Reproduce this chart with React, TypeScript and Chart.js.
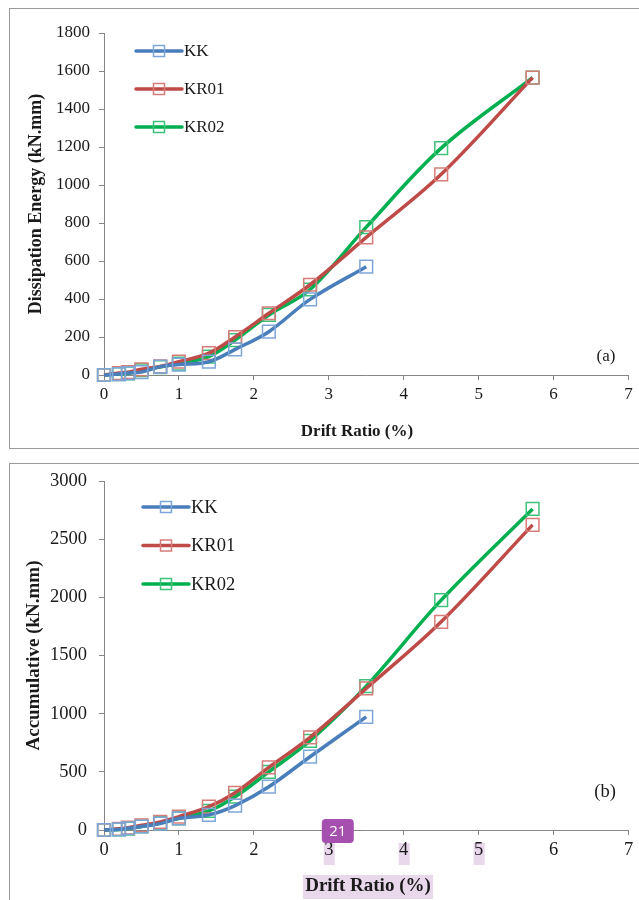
import React, { useEffect, useRef } from "react";
import { Chart, registerables } from "chart.js";

Chart.register(...registerables);

// ---------- data ----------
const seriesNames = ["KK", "KR01", "KR02"];
const driftKK = [0, 0.2, 0.32, 0.5, 0.75, 1.0, 1.4, 1.75, 2.2, 2.75, 3.5];
const driftKR = [0, 0.2, 0.32, 0.5, 0.75, 1.0, 1.4, 1.75, 2.2, 2.75, 3.5, 4.5, 5.72];

// (a) Dissipation energy (kN.mm)
const kkDissipation = [0, 5, 10, 15, 44, 55, 70, 135, 228, 398, 570];
const kr01Dissipation = [0, 10, 15, 30, 45, 70, 115, 200, 325, 475, 724, 1056, 1565];
const kr02Dissipation = [0, 5, 8, 25, 42, 60, 97, 184, 316, 450, 778, 1194, 1565];

// (b) Accumulative (kN.mm)
const kkAccumulative = [0, 5, 15, 30, 55, 100, 130, 210, 372, 630, 973];
const kr01Accumulative = [0, 10, 20, 40, 70, 115, 200, 320, 538, 796, 1217, 1790, 2623];
const kr02Accumulative = [0, 5, 12, 30, 60, 100, 165, 286, 500, 767, 1237, 1976, 2760];

const xTickMin = 0;
const xTickMax = 7;
const xTickStep = 1;
const yTicksA = { min: 0, max: 1800, step: 200 };
const yTicksB = { min: 0, max: 3000, step: 500 };
const highlightedTicks = [3, 4, 5];
const badgeText = "21";
const xTitle = "Drift Ratio (%)";

const lineColors = ["#4A7EBB", "#BE4B48", "#00B050"];
const markerColors = ["#7EA6D9", "#D67C79", "#3EC27B"];

const SERIF = "'Liberation Serif', 'Times New Roman', serif";
const TEXT = "#1a1a1a";
const AXIS = "#868686";

type Panel = {
  kk: number[];
  kr01: number[];
  kr02: number[];
  yT: { min: number; max: number; step: number };
  yTitle: string;
  padTop: number;
  height: number;
  fs: number;
  yTickPad: number;
  titleFs: number;
  yTitleFs: number;
  yTitleX: number;
  xTitleX: number;
  xTitleY: number;
  legendX: number;
  legendY: number;
  legendGap: number;
  tag: string;
  tagX: number;
  tagY: number;
  highlight: boolean;
};

function toPts(xs: number[], ys: number[]) {
  return ys.map((y, i) => ({ x: xs[i], y }));
}

function makeOverlay(p: Panel) {
  return {
    id: "overlay",
    beforeDraw(chart: any) {
      if (!p.highlight) return;
      const ctx = chart.ctx;
      const xs = chart.scales.x;
      ctx.save();
      ctx.fillStyle = "#E9D7EC";
      for (const v of highlightedTicks) {
        const px = xs.getPixelForValue(v);
        ctx.fillRect(px - 5, xs.top + 13, 11, 22);
      }
      ctx.fillRect(p.xTitleX - 65, p.xTitleY - 11, 130, 24);
      ctx.restore();
    },
    afterDraw(chart: any) {
      const ctx = chart.ctx;
      const ca = chart.chartArea;
      ctx.save();
      // axis titles
      ctx.fillStyle = TEXT;
      ctx.font = `bold ${p.titleFs}px ${SERIF}`;
      ctx.textAlign = "center";
      ctx.textBaseline = "middle";
      ctx.fillText(xTitle, p.xTitleX, p.xTitleY);
      ctx.save();
      ctx.translate(p.yTitleX, (ca.top + ca.bottom) / 2);
      ctx.rotate(-Math.PI / 2);
      ctx.font = `bold ${p.yTitleFs}px ${SERIF}`;
      ctx.fillText(p.yTitle, 0, 0);
      ctx.restore();
      // legend
      chart.data.datasets.forEach((ds: any, i: number) => {
        const y = p.legendY + i * p.legendGap;
        const x0 = p.legendX;
        ctx.strokeStyle = ds.borderColor;
        ctx.lineWidth = 3.5;
        ctx.lineCap = "round";
        ctx.beginPath();
        ctx.moveTo(x0, y);
        ctx.lineTo(x0 + 46, y);
        ctx.stroke();
        ctx.strokeStyle = ds.pointBorderColor;
        ctx.lineWidth = 1.5;
        ctx.strokeRect(x0 + 23 - 5.5, y - 5.5, 11, 11);
        ctx.fillStyle = TEXT;
        ctx.font = `${p.fs}px ${SERIF}`;
        ctx.textBaseline = "middle";
        ctx.textAlign = "left";
        ctx.fillText(ds.label, x0 + 48, y + 1);
      });
      // panel tag
      ctx.fillStyle = TEXT;
      ctx.font = `${p.fs}px ${SERIF}`;
      ctx.textAlign = "center";
      ctx.textBaseline = "middle";
      ctx.fillText(p.tag, p.tagX, p.tagY);
      // page badge
      if (p.highlight) {
        const xs = chart.scales.x;
        const bx = xs.getPixelForValue(3) + 9;
        const by = xs.top + 1;
        ctx.fillStyle = "#A54FAE";
        ctx.beginPath();
        (ctx as any).roundRect(bx - 16, by - 12, 32, 24, 4);
        ctx.fill();
        ctx.fillStyle = "#ffffff";
        ctx.font = "15px 'Open Sans', 'DejaVu Sans', sans-serif";
        ctx.fillText(badgeText, bx, by + 1);
      }
      ctx.restore();
    },
  };
}

function buildChart(canvas: HTMLCanvasElement, p: Panel) {
  const mk = (i: number, xs: number[], ys: number[]) => ({
    label: seriesNames[i],
    data: toPts(xs, ys),
    borderColor: lineColors[i],
    backgroundColor: "rgba(0,0,0,0)",
    borderWidth: 3.5,
    tension: 0.35,
    pointStyle: "rect",
    pointRadius: 9,
    pointBorderWidth: 1.5,
    pointBorderColor: markerColors[i],
    pointBackgroundColor: "rgba(0,0,0,0)",
    clip: false,
    fill: false,
  });
  return new Chart(canvas, {
    type: "line",
    data: {
      datasets: [
        mk(0, driftKK, p.kk),
        mk(1, driftKR, p.kr01),
        mk(2, driftKR, p.kr02),
      ],
    },
    options: {
      responsive: false,
      animation: false,
      events: [],
      layout: { padding: { left: 0, right: 7, top: p.padTop, bottom: 0 } },
      plugins: {
        legend: { display: false },
        tooltip: { enabled: false },
      },
      scales: {
        x: {
          type: "linear",
          min: xTickMin,
          max: xTickMax,
          afterFit: (s: any) => {
            s.height = p.height - 375;
          },
          ticks: {
            stepSize: xTickStep,
            color: TEXT,
            padding: 4,
            maxRotation: 0,
            font: { family: SERIF, size: p.fs },
            callback: (v: any) => String(v),
          },
          grid: {
            drawOnChartArea: false,
            drawTicks: true,
            tickLength: 5,
            color: AXIS,
          },
          border: { display: true, color: AXIS, width: 1 },
          title: { display: false },
        },
        y: {
          type: "linear",
          min: p.yT.min,
          max: p.yT.max,
          afterFit: (s: any) => {
            s.width = 104;
          },
          ticks: {
            stepSize: p.yT.step,
            color: TEXT,
            padding: p.yTickPad,
            font: { family: SERIF, size: p.fs },
            callback: (v: any) => String(v),
          },
          grid: {
            drawOnChartArea: false,
            drawTicks: true,
            tickLength: 5,
            color: AXIS,
          },
          border: { display: true, color: AXIS, width: 1 },
          title: { display: false },
        },
      },
    },
    plugins: [makeOverlay(p) as any],
  } as any);
}

const panelA: Panel = {
  kk: kkDissipation,
  kr01: kr01Dissipation,
  kr02: kr02Dissipation,
  yT: yTicksA,
  yTitle: "Dissipation Energy (kN.mm)",
  padTop: 33,
  height: 450,
  fs: 17,
  yTickPad: 9,
  titleFs: 17,
  yTitleFs: 18,
  yTitleX: 36,
  xTitleX: 357,
  xTitleY: 432,
  legendX: 136,
  legendY: 51,
  legendGap: 38,
  tag: "(a)",
  tagX: 606,
  tagY: 357,
  highlight: false,
};

const panelB: Panel = {
  kk: kkAccumulative,
  kr01: kr01Accumulative,
  kr02: kr02Accumulative,
  yT: yTicksB,
  yTitle: "Accumulative (kN.mm)",
  padTop: 26,
  height: 445,
  fs: 18.5,
  yTickPad: 12,
  titleFs: 19,
  yTitleFs: 19,
  yTitleX: 34,
  xTitleX: 368,
  xTitleY: 431,
  legendX: 143,
  legendY: 52,
  legendGap: 38.5,
  tag: "(b)",
  tagX: 605,
  tagY: 337,
  highlight: true,
};

export default function App() {
  const refA = useRef<HTMLCanvasElement>(null);
  const refB = useRef<HTMLCanvasElement>(null);

  useEffect(() => {
    const a = buildChart(refA.current!, panelA);
    const b = buildChart(refB.current!, panelB);
    return () => {
      a.destroy();
      b.destroy();
    };
  }, []);

  return (
    <div
      style={{
        position: "absolute",
        left: 0,
        top: 0,
        width: 639,
        height: 900,
        overflow: "hidden",
        background: "#fff",
      }}
    >
      <div
        style={{
          position: "absolute",
          left: 9,
          top: 8,
          width: 640,
          height: 439,
          border: "1.5px solid #9a9a9a",
        }}
      />
      <div
        style={{
          position: "absolute",
          left: 9,
          top: 463,
          width: 640,
          height: 460,
          border: "1.5px solid #9a9a9a",
        }}
      />
      <canvas
        ref={refA}
        width={639}
        height={450}
        style={{ position: "absolute", left: 0, top: 0, width: 639, height: 450 }}
      />
      <canvas
        ref={refB}
        width={639}
        height={445}
        style={{ position: "absolute", left: 0, top: 455, width: 639, height: 445 }}
      />
    </div>
  );
}
